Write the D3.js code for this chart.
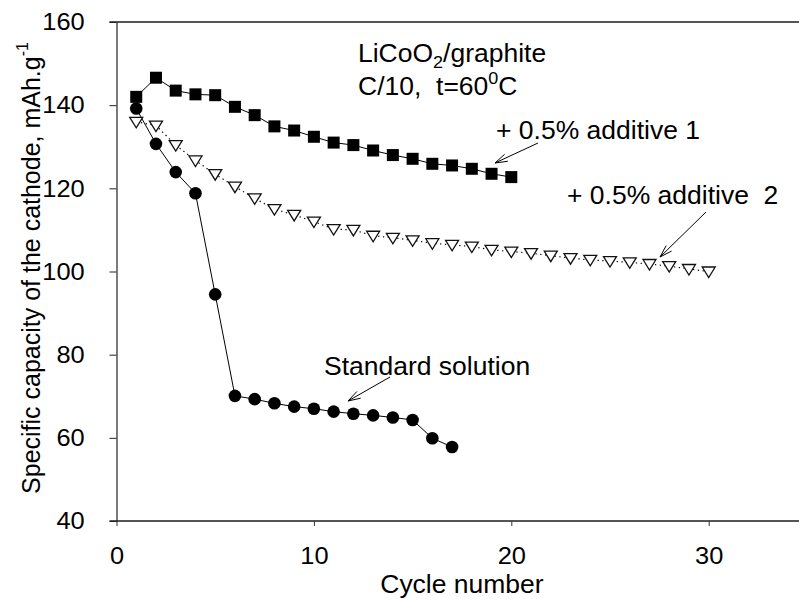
<!DOCTYPE html>
<html>
<head>
<meta charset="utf-8">
<script src="https://cdn.jsdelivr.net/npm/d3@7"></script>
<style>
body { margin: 0; background: #fff; }
text { font-family: Arial, "Liberation Sans", sans-serif; fill: #000; white-space: pre; }
</style>
</head>
<body>
<div id="chart"></div>
<script>
// capacity vs cycle number, three electrolytes
var standardCycles = [1, 2, 3, 4, 5, 6, 7, 8, 9, 10, 11, 12, 13, 14, 15, 16, 17];
var standardCapacity = [139.2, 130.7, 123.9, 118.8, 94.5, 70.1, 69.3, 68.3, 67.5, 67.0, 66.3, 65.8, 65.4, 64.9, 64.3, 59.9, 57.8];

var additive1Cycles = [1, 2, 3, 4, 5, 6, 7, 8, 9, 10, 11, 12, 13, 14, 15, 16, 17, 18, 19, 20];
var additive1Capacity = [142.0, 146.6, 143.5, 142.6, 142.4, 139.6, 137.6, 134.9, 133.9, 132.4, 131.0, 130.4, 129.1, 128.0, 127.1, 125.9, 125.5, 124.7, 123.5, 122.7];

var additive2Cycles = [1, 2, 3, 4, 5, 6, 7, 8, 9, 10, 11, 12, 13, 14, 15, 16, 17, 18, 19, 20, 21, 22, 23, 24, 25, 26, 27, 28, 29, 30];
var additive2Capacity = [136.0, 135.1, 130.4, 126.7, 123.4, 120.4, 117.6, 115.0, 113.6, 112.0, 110.2, 110.0, 108.6, 108.1, 107.5, 106.8, 106.4, 106.0, 105.2, 104.8, 104.4, 103.8, 103.2, 102.8, 102.5, 102.2, 101.8, 101.3, 100.6, 100.0];

var xTicks = [0, 10, 20, 30];
var yTicks = [40, 60, 80, 100, 120, 140, 160];

var width = 799, height = 600;
var sx = 1.06; // the original text is a little wide

var x = d3.scaleLinear().domain([0, 35]).range([116.5, 807.4]);
var y = d3.scaleLinear().domain([40, 160]).range([521, 22]);

var svg = d3.select("#chart")
  .append("svg")
  .attr("width", width)
  .attr("height", height);

// top frame line
svg.append("line")
  .attr("x1", x(0) - 7).attr("x2", width)
  .attr("y1", y(160)).attr("y2", y(160))
  .attr("stroke", "#555").attr("stroke-width", 2);

// bottom axis
var xAxis = d3.axisBottom(x).tickValues(xTicks).tickSize(5).tickSizeOuter(0).tickPadding(21);
var gx = svg.append("g")
  .attr("transform", "translate(0," + y(40) + ")")
  .call(xAxis);
gx.select(".domain").attr("stroke", "#555").attr("stroke-width", 2)
  .attr("d", "M" + (x(0) - 7) + ",0H" + width);
gx.selectAll(".tick line").attr("stroke", "#333");
gx.selectAll("text")
  .attr("font-size", 24)
  .attr("font-family", "Arial, 'Liberation Sans', sans-serif")
  .attr("transform", "scale(" + sx + ",1)");

// left axis
var yAxis = d3.axisLeft(y).tickValues(yTicks).tickSize(7).tickSizeOuter(0).tickPadding(23);
var gy = svg.append("g")
  .attr("transform", "translate(" + x(0) + ",0)")
  .call(yAxis);
gy.select(".domain").attr("stroke", "#222").attr("stroke-width", 1.2);
gy.selectAll(".tick line").attr("stroke", "#222");
gy.selectAll("text")
  .attr("font-size", 24)
  .attr("font-family", "Arial, 'Liberation Sans', sans-serif")
  .attr("transform", "scale(" + sx + ",1)");

// axis titles
svg.append("text")
  .attr("transform", "translate(" + (x(0) + x(35)) / 2 + ",593) scale(" + sx + ",1)")
  .attr("text-anchor", "middle")
  .attr("font-size", 25)
  .text("Cycle number");

var yt = svg.append("text")
  .attr("transform", "translate(40,268) rotate(-90) scale(1," + sx + ")")
  .attr("text-anchor", "middle")
  .attr("font-size", 25);
yt.append("tspan").text("Specific capacity of the cathode, mAh.g");
yt.append("tspan").attr("font-size", 16).attr("dy", -11).text("-1");

// series
var lineGen = d3.line()
  .x(function(d) { return x(d[0]); })
  .y(function(d) { return y(d[1]); });

var standardData = d3.zip(standardCycles, standardCapacity);
var additive1Data = d3.zip(additive1Cycles, additive1Capacity);
var additive2Data = d3.zip(additive2Cycles, additive2Capacity);

svg.append("path").datum(additive2Data)
  .attr("d", lineGen).attr("fill", "none")
  .attr("stroke", "#000").attr("stroke-width", 1.2)
  .attr("stroke-dasharray", "1.3,3.5");

svg.append("path").datum(additive1Data)
  .attr("d", lineGen).attr("fill", "none")
  .attr("stroke", "#000").attr("stroke-width", 1);

svg.append("path").datum(standardData)
  .attr("d", lineGen).attr("fill", "none")
  .attr("stroke", "#000").attr("stroke-width", 1);

svg.selectAll(".tri")
  .data(additive2Data)
  .enter()
  .append("path")
  .attr("class", "tri")
  .attr("transform", function(d) { return "translate(" + x(d[0]) + "," + y(d[1]) + ")"; })
  .attr("d", "M-6.5,-4.5L6.5,-4.5L0,6Z")
  .attr("fill", "#fff")
  .attr("stroke", "#111")
  .attr("stroke-width", 1.3);

svg.selectAll(".sq")
  .data(additive1Data)
  .enter()
  .append("rect")
  .attr("class", "sq")
  .attr("x", function(d) { return x(d[0]) - 6; })
  .attr("y", function(d) { return y(d[1]) - 6; })
  .attr("width", 12)
  .attr("height", 12)
  .attr("fill", "#000");

svg.selectAll(".dot")
  .data(standardData)
  .enter()
  .append("circle")
  .attr("class", "dot")
  .attr("cx", function(d) { return x(d[0]); })
  .attr("cy", function(d) { return y(d[1]); })
  .attr("r", 6.3)
  .attr("fill", "#000");

// annotations
function label(px, py) {
  return svg.append("text")
    .attr("transform", "translate(" + px + "," + py + ") scale(" + sx + ",1)")
    .attr("font-size", 25);
}

function arrow(x1, y1, x2, y2) {
  svg.append("line")
    .attr("x1", x1).attr("y1", y1).attr("x2", x2).attr("y2", y2)
    .attr("stroke", "#000").attr("stroke-width", 1);
  var ang = Math.atan2(y1 - y2, x1 - x2);
  var len = 13, spread = 0.3;
  svg.append("path")
    .attr("d", "M" + (x2 + len * Math.cos(ang + spread)) + "," + (y2 + len * Math.sin(ang + spread)) +
      "L" + x2 + "," + y2 +
      "L" + (x2 + len * Math.cos(ang - spread)) + "," + (y2 + len * Math.sin(ang - spread)))
    .attr("fill", "none").attr("stroke", "#000").attr("stroke-width", 1);
}

var t1 = label(358, 62);
t1.append("tspan").text("LiCoO");
t1.append("tspan").attr("font-size", 17).attr("dy", 6).text("2");
t1.append("tspan").attr("dy", -6).text("/graphite");

var t2 = label(358, 95);
t2.append("tspan").text("C/10,  t=60");
t2.append("tspan").attr("font-size", 17).attr("dy", -11).text("0");
t2.append("tspan").attr("dy", 11).text("C");

label(496, 139).text("+ 0.5% additive 1");
label(567, 204).text("+ 0.5% additive  2");
label(324, 375).text("Standard solution");

arrow(538, 143, 495, 163);
arrow(706, 212, 660, 257);
arrow(390, 377, 348, 401);
</script>
</body>
</html>
